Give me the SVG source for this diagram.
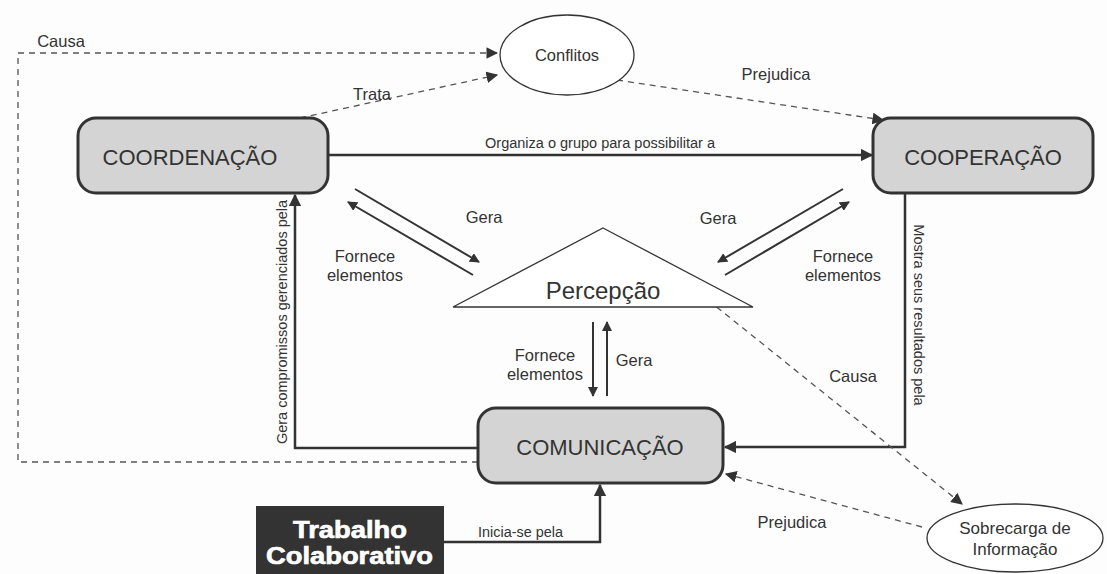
<svg xmlns="http://www.w3.org/2000/svg" width="1107" height="574" viewBox="0 0 1107 574">
<style>
text{font-family:"Liberation Sans",Arial,sans-serif;fill:#333;}
.box{fill:#d4d4d4;stroke:#333;stroke-width:3;}
.big{font-size:22px;text-anchor:middle;}
.lbl{font-size:16.5px;text-anchor:middle;}
.nar{font-size:15.5px;}
.solid{fill:none;stroke:#333;stroke-width:2.5;}
.thin{fill:none;stroke:#333;stroke-width:2;}
.dash{fill:none;stroke:#555;stroke-width:1.3;stroke-dasharray:6,5;}
.ell{fill:#fff;stroke:#333;stroke-width:1.3;}
.wt{font-size:24px;font-weight:bold;fill:#fff;stroke:#fff;stroke-width:0.7;}
</style>
<defs>
<marker id="ah" viewBox="0 0 10 10" refX="9" refY="5" markerWidth="5" markerHeight="5" orient="auto" markerUnits="strokeWidth"><path d="M0,0L10,5L0,10z" fill="#333"/></marker>
<marker id="ahd" viewBox="0 0 10 10" refX="9" refY="5" markerWidth="9" markerHeight="9" orient="auto" markerUnits="strokeWidth"><path d="M0,0L10,5L0,10z" fill="#333"/></marker>
</defs>
<rect width="1107" height="574" fill="#fdfdfd"/>
<g id="connectors">
<path class="dash" d="M478,462 H18 V53 H497" marker-end="url(#ahd)"/>
<path class="dash" d="M300,118 L497,75" marker-end="url(#ahd)"/>
<path class="dash" d="M617,80 L883,120" marker-end="url(#ahd)"/>
<path class="solid" d="M328,155 H872" marker-end="url(#ah)"/>
<path class="thin" d="M355,189 L479,262" marker-end="url(#ah)"/>
<path class="thin" d="M473,275 L348,202" marker-end="url(#ah)"/>
<path class="thin" d="M843,189 L718,262" marker-end="url(#ah)"/>
<path class="thin" d="M725,275 L849,202" marker-end="url(#ah)"/>
<path class="thin" d="M593,322 V396" marker-end="url(#ah)"/>
<path class="thin" d="M607,396 V322" marker-end="url(#ah)"/>
<path class="solid" d="M478,448 H295 V195" marker-end="url(#ah)"/>
<path class="solid" d="M905,193 V447 H725" marker-end="url(#ah)"/>
<path class="solid" d="M443,542 H600 V485" marker-end="url(#ah)"/>
<path class="dash" d="M708,300 L962,504" marker-end="url(#ahd)"/>
<path class="dash" d="M922,527 L726,474" marker-end="url(#ahd)"/>
<text x="61" y="47" class="lbl">Causa</text>
<text x="372" y="100" class="lbl">Trata</text>
<text x="776" y="80" class="lbl">Prejudica</text>
<text x="485" y="148" class="nar" textLength="230" lengthAdjust="spacingAndGlyphs">Organiza o grupo para possibilitar a</text>
<text x="484" y="223" class="lbl">Gera</text>
<text x="365" y="262" class="lbl">Fornece</text>
<text x="365" y="281" class="lbl">elementos</text>
<text x="718" y="224" class="lbl">Gera</text>
<text x="843" y="262" class="lbl">Fornece</text>
<text x="843" y="281" class="lbl">elementos</text>
<text x="545" y="361" class="lbl">Fornece</text>
<text x="545" y="380" class="lbl">elementos</text>
<text x="634" y="366" class="lbl">Gera</text>
<text x="853" y="382" class="lbl">Causa</text>
<text x="792" y="528" class="lbl">Prejudica</text>
<text x="478" y="537" class="nar" textLength="85" lengthAdjust="spacingAndGlyphs">Inicia-se pela</text>
<text transform="translate(287,322) rotate(-90)" class="lbl" style="font-size:14.5px">Gera compromissos gerenciados pela</text>
<text transform="translate(914,315) rotate(90)" class="lbl" style="font-size:14.5px">Mostra seus resultados pela</text>
</g>
<g id="conflitos">
<ellipse class="ell" cx="567" cy="55" rx="67" ry="40"/>
<text x="567" y="61" class="lbl">Conflitos</text>
</g>
<g id="coordenacao">
<rect class="box" x="78" y="118" width="250" height="75" rx="18"/>
<text x="190" y="165" class="big">COORDENAÇÃO</text>
</g>
<g id="cooperacao">
<rect class="box" x="873" y="118" width="220" height="75" rx="18"/>
<text x="983" y="165" class="big">COOPERAÇÃO</text>
</g>
<g id="percepcao">
<path d="M603,228 L753,307 H453 Z" fill="#fff" stroke="#333" stroke-width="1.3"/>
<text x="603" y="299" class="big" style="font-size:24px">Percepção</text>
</g>
<g id="comunicacao">
<rect class="box" x="478" y="408" width="245" height="75" rx="18"/>
<text x="600" y="455" class="big">COMUNICAÇÃO</text>
</g>
<g id="trabalho">
<rect x="256" y="506" width="188" height="68" fill="#333"/>
<text x="293" y="538" class="wt" textLength="114" lengthAdjust="spacingAndGlyphs">Trabalho</text>
<text x="266" y="564" class="wt" textLength="167" lengthAdjust="spacingAndGlyphs">Colaborativo</text>
</g>
<g id="sobrecarga">
<ellipse class="ell" cx="1015" cy="538" rx="88" ry="34"/>
<text x="1015" y="534" class="lbl" style="font-size:17px">Sobrecarga de</text>
<text x="1015" y="555" class="lbl" style="font-size:17px">Informação</text>
</g>
</svg>
